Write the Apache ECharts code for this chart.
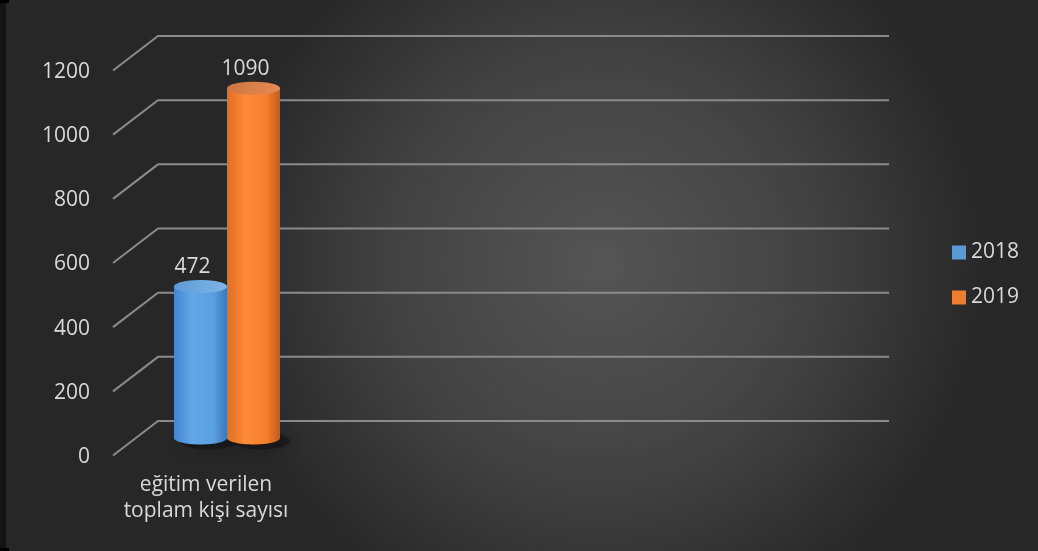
<!DOCTYPE html>
<html>
<head>
<meta charset="utf-8">
<script src="https://cdn.jsdelivr.net/npm/echarts@6/dist/echarts.min.js"></script>
<style>html,body{margin:0;padding:0;background:#2a2a2a;}#c{width:1038px;height:551px;}</style>
</head>
<body>
<div id="c"></div>
<script>
const categories = ['eğitim verilen\ntoplam kişi sayısı'];
const seriesNames = ['2018', '2019'];
const values2018 = [472];
const values2019 = [1090];
const yTicks = [0, 200, 400, 600, 800, 1000, 1200];

const FONT = '"Open Sans", "Noto Sans", sans-serif';
const TXT = '#d9d9d9';
const FS = 21;
const BAR_W = 53;
const DEPTH_DX = -45, DEPTH_DY = 34.5;

const chart = echarts.init(document.getElementById('c'), null, {renderer: 'canvas'});

const palettes = [
  { body: [[0, '#4486cf'], [0.35, '#62a7e6'], [0.75, '#5a9fe0'], [1, '#3a78bd']], top: [[0, '#5d9ad6'], [1, '#7fb6e8']], legend: '#5b9bd5' },
  { body: [[0, '#e06f24'], [0.35, '#ff8a38'], [0.75, '#f57e2c'], [1, '#c25c19']], top: [[0, '#cf7540'], [1, '#e58a52']], legend: '#ed7d31' }
];

function grad(stops) {
  return new echarts.graphic.LinearGradient(0, 0, 1, 0, stops.map(s => ({offset: s[0], color: s[1]})));
}

function cylinder(idx) {
  const pal = palettes[idx];
  return function (params, api) {
    const c = api.value(0);
    const v = api.value(1);
    const top = api.coord([c, v]);
    const base = api.coord([c, 0]);
    const cx = top[0] + (idx - 0.5) * BAR_W;
    const rx = BAR_W / 2;
    const ry = 6.5;
    return {
      type: 'group',
      children: [
        { type: 'ellipse', z2: 1, shape: {cx: cx + 8, cy: base[1] + 3, rx: rx + 2, ry: ry + 2},
          style: {fill: 'rgba(0,0,0,0.3)', shadowBlur: 16, shadowColor: 'rgba(0,0,0,0.65)', shadowOffsetX: 3} },
        { type: 'ellipse', z2: 2, shape: {cx: cx, cy: base[1], rx: rx, ry: ry}, style: {fill: grad(pal.body)} },
        { type: 'rect', z2: 3, shape: {x: cx - rx, y: top[1], width: BAR_W, height: base[1] - top[1]}, style: {fill: grad(pal.body)} },
        { type: 'ellipse', z2: 4, shape: {cx: cx, cy: top[1], rx: rx, ry: ry}, style: {fill: grad(pal.top)} },
        { type: 'text', z2: 5, style: {text: String(v), x: cx - 8, y: top[1] - 9, align: 'center', verticalAlign: 'bottom',
          fill: TXT, font: FS + 'px ' + FONT} }
      ]
    };
  };
}

function gridLines(params, api) {
  const v = api.value(1);
  const p1 = api.coord([0, v]);
  const p2 = api.coord([1, v]);
  return {
    type: 'polyline',
    shape: {points: [[p1[0] + DEPTH_DX, p1[1] + DEPTH_DY], p1, p2]},
    style: {stroke: '#8a8a8a', lineWidth: 2, fill: null}
  };
}

const option = {
  animation: false,
  backgroundColor: new echarts.graphic.RadialGradient(0.58, 0.48, 0.7, [
    {offset: 0, color: '#555555'}, {offset: 0.55, color: '#424242'}, {offset: 1, color: '#272727'}
  ]),
  textStyle: {fontFamily: FONT},
  graphic: [
    {type: 'rect', left: 0, top: 0, shape: {width: 6, height: 551}, style: {fill: '#141414'}, z: 100},
    {type: 'rect', left: 0, top: 0, shape: {width: 9, height: 3}, style: {fill: '#000'}, z: 101},
    {type: 'rect', left: 0, top: 548, shape: {width: 9, height: 3}, style: {fill: '#000'}, z: 101}
  ],
  legend: {
    orient: 'vertical', left: 952, top: 242, padding: 0, itemWidth: 14, itemHeight: 14, itemGap: 24,
    icon: 'rect',
    textStyle: {color: TXT, fontSize: FS, fontFamily: FONT, lineHeight: 20},
    data: seriesNames.map((n, i) => ({name: n, itemStyle: {color: palettes[i].legend}}))
  },
  grid: [
    {left: 100, right: 726, top: 72, bottom: 94},
    {left: 158, right: 149, top: 36, bottom: 130},
    {left: 172, right: 756, top: 53, bottom: 113}
  ],
  xAxis: [
    {gridIndex: 0, type: 'category', data: categories, axisLine: {show: false}, axisTick: {show: false},
      axisLabel: {color: TXT, fontSize: FS, fontFamily: FONT, lineHeight: 26, margin: 15, interval: 0}},
    {gridIndex: 1, type: 'value', min: 0, max: 1, show: false},
    {gridIndex: 2, type: 'category', data: categories, show: false}
  ],
  yAxis: [
    {gridIndex: 0, type: 'value', min: 0, max: 1200, interval: 200, axisLine: {show: false}, axisTick: {show: false},
      splitLine: {show: false}, axisLabel: {color: TXT, fontSize: FS, fontFamily: FONT, margin: 10, formatter: v => String(v)}},
    {gridIndex: 1, type: 'value', min: 0, max: 1200, interval: 200, show: false, splitLine: {show: false}},
    {gridIndex: 2, type: 'value', min: 0, max: 1200, interval: 200, show: false, splitLine: {show: false}}
  ],
  series: [
    {type: 'custom', name: 'grid', xAxisIndex: 1, yAxisIndex: 1, clip: false, silent: true, z: 1,
      renderItem: gridLines, data: yTicks.map(v => [0, v])},
    {type: 'custom', name: seriesNames[0], xAxisIndex: 2, yAxisIndex: 2, clip: false, z: 5,
      itemStyle: {color: palettes[0].legend}, renderItem: cylinder(0), data: values2018.map((v, i) => [i, v])},
    {type: 'custom', name: seriesNames[1], xAxisIndex: 2, yAxisIndex: 2, clip: false, z: 6,
      itemStyle: {color: palettes[1].legend}, renderItem: cylinder(1), data: values2019.map((v, i) => [i, v])}
  ]
};
chart.setOption(option);
</script>
</body>
</html>
